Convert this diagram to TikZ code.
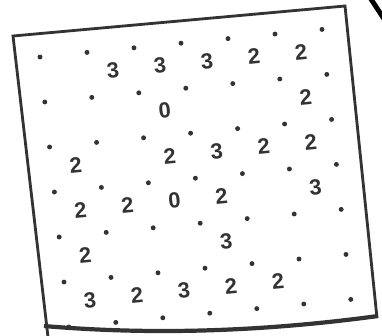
\documentclass[tikz,border=0pt]{standalone}
\usepackage{fontspec}
\setmainfont{Liberation Sans}
\begin{document}
\begin{tikzpicture}[x=0.02cm, y=-0.02cm,
  frame/.style={draw=black!80, line width=1.6pt, line join=miter},
  clue/.style={font=\fontsize{12.5}{14}\selectfont\bfseries, text=black!80, inner sep=0pt, rotate=5.6}]
\useasboundingbox (0,0) rectangle (382,335);
% border of the sheet
\draw[frame] (48,337) -- (13,36) -- (345,6) -- (377,318);
\draw[frame, line width=2.4pt] (44,326) .. controls (150,335) and (260,332) .. (378,316);
\draw[line width=2.8pt] (369,-4) -- (386,22);
% grid points
\foreach \i in {0,...,6}
  \foreach \j in {0,...,6}
    \fill[black!80] (40+47*\i+4.8*\j, 57-4.6*\i+45*\j) circle (1.4pt);
% clues: column/row/number
\foreach \c/\r/\n in {1/0/3, 2/0/3, 3/0/3, 4/0/2, 5/0/2,
                      2/1/0, 5/1/2,
                      0/2/2, 2/2/2, 3/2/3, 4/2/2, 5/2/2,
                      0/3/2, 1/3/2, 2/3/0, 3/3/2, 5/3/3,
                      0/4/2, 3/4/3,
                      0/5/3, 1/5/2, 2/5/3, 3/5/2, 4/5/2}
  \node[clue] (n\c\r) at (66+47*\c+4.8*\r, 75-4.6*\c+45*\r) {\n};
\end{tikzpicture}
\end{document}
